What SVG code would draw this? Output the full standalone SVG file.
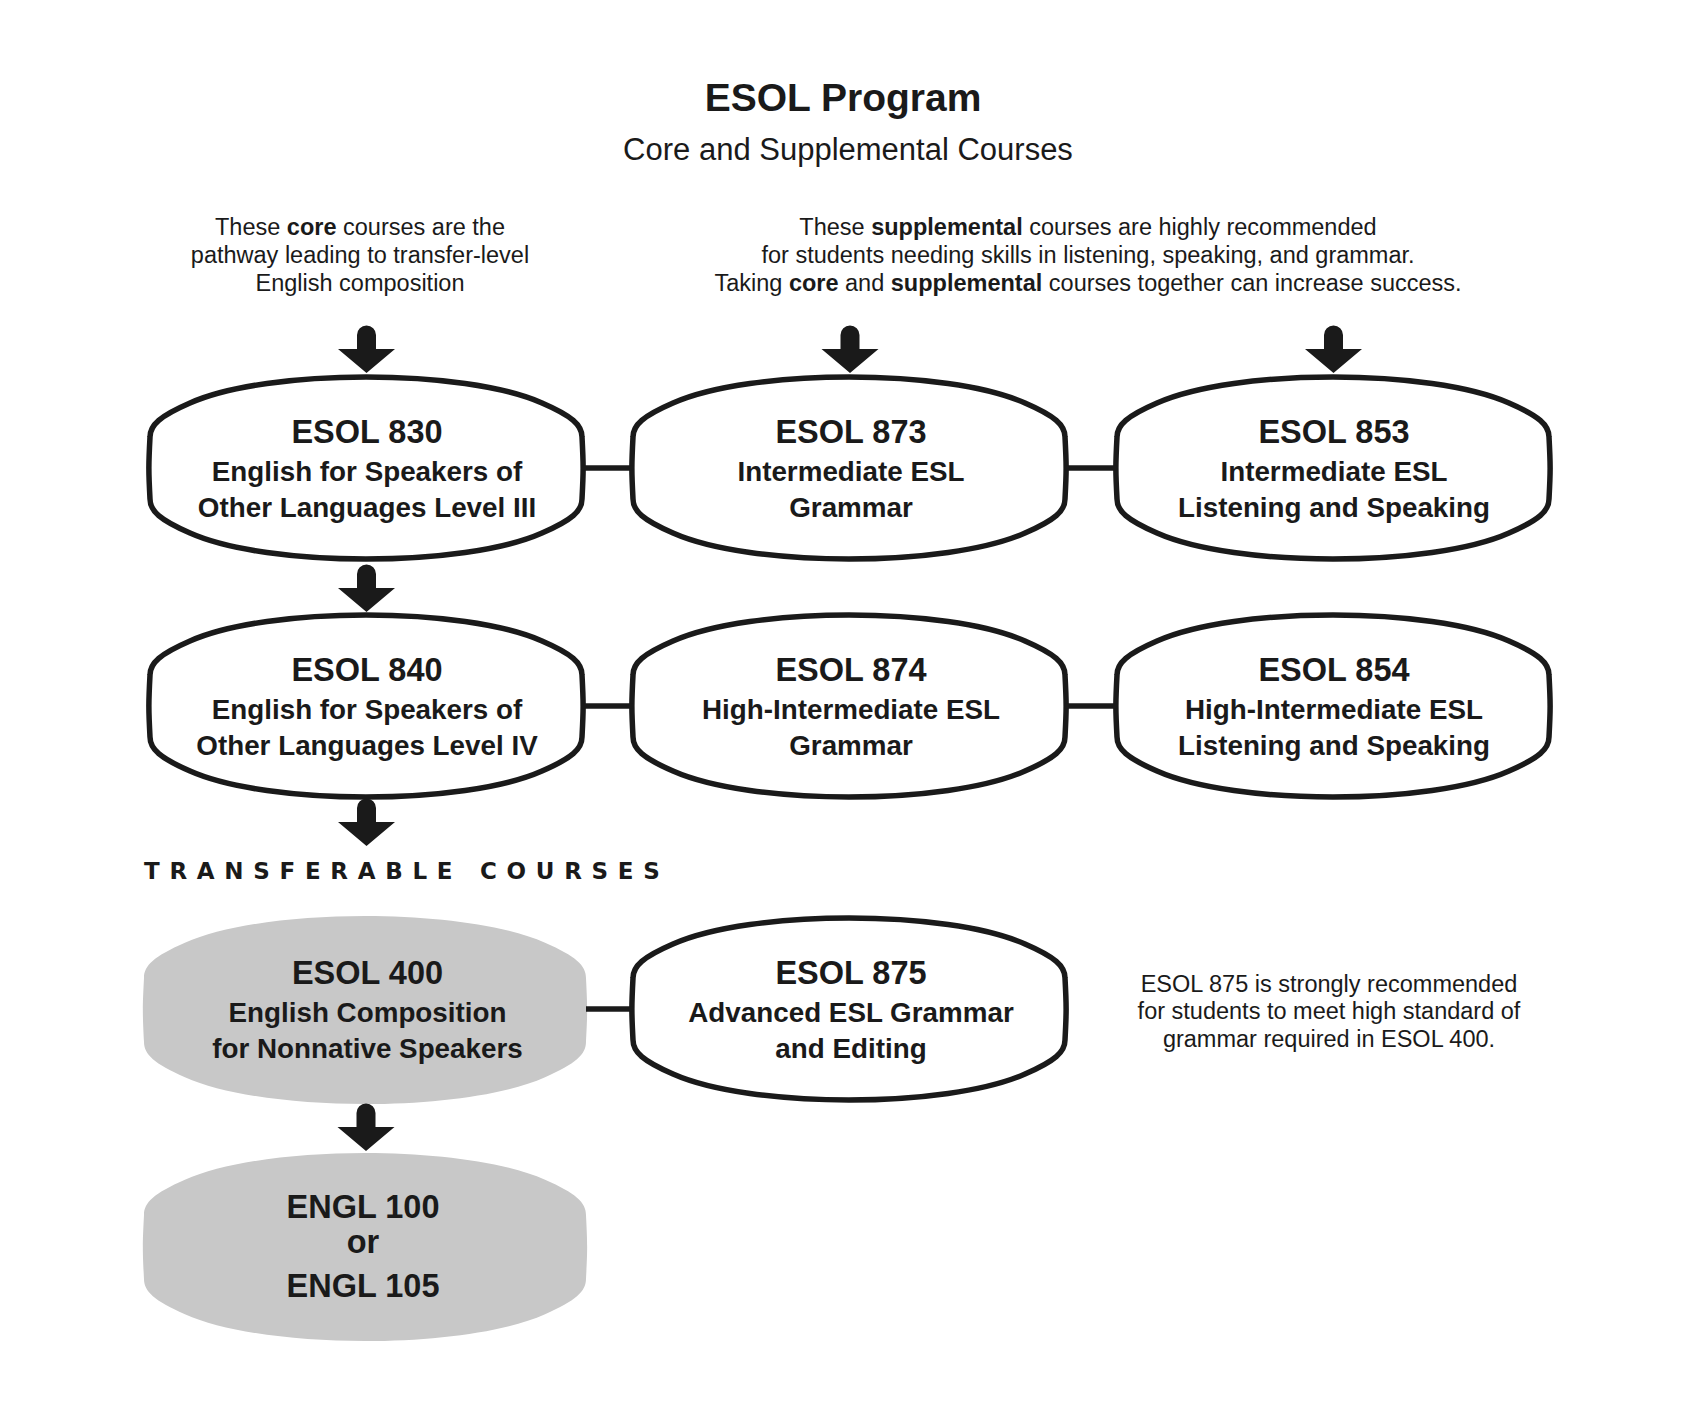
<svg xmlns="http://www.w3.org/2000/svg" width="1700" height="1416" viewBox="0 0 1700 1416">
<style>
  text { font-family: "Liberation Sans", Arial, sans-serif; fill: #1a1a1a; }
  .title { font-size: 39px; font-weight: bold; text-anchor: middle; }
  .sub { font-size: 31px; text-anchor: middle; }
  .note { font-size: 23.5px; text-anchor: middle; }
  .b { font-weight: bold; }
  .hd { font-size: 32.5px; font-weight: bold; text-anchor: middle; }
  .bd { font-size: 27.8px; font-weight: bold; text-anchor: middle; }
  .tr { font-family: "DejaVu Sans", "Liberation Sans", sans-serif; font-size: 23px; font-weight: bold; letter-spacing: 9.7px; }
  .box { fill: #ffffff; stroke: #1a1a1a; stroke-width: 5.5; }
  .gray { fill: #c8c8c8; stroke: none; }
  .link { stroke: #1a1a1a; stroke-width: 5.5; fill: none; }
  .arr { fill: #1a1a1a; }
</style>
<defs>
  <path id="pill" d="M 0,60 C 0,48 10,39 40,26 C 118,-8.7 314,-8.7 392,26 C 422,39 432,48 432,60 C 433.5,88 433.5,94 432,122 C 432,134 422,143 392,156 C 314,190.7 118,190.7 40,156 C 10,143 0,134 0,122 C -1.5,94 -1.5,88 0,60 Z"/>
  <path id="arrow" d="M 0,0 L -28.5,-24 L -9.5,-24 L -9.5,-38 A 9.5,9.5 0 0 1 9.5,-38 L 9.5,-24 L 28.5,-24 Z"/>
</defs>
<rect width="1700" height="1416" fill="#ffffff"/>

<g id="header">
  <text class="title" x="843" y="111">ESOL Program</text>
  <text class="sub" x="848" y="160">Core and Supplemental Courses</text>
</g>

<g id="core-note">
  <text class="note" x="360" y="235">These <tspan class="b">core</tspan> courses are the</text>
  <text class="note" x="360" y="263">pathway leading to transfer-level</text>
  <text class="note" x="360" y="291">English composition</text>
</g>

<g id="supp-note">
  <text class="note" x="1088" y="235">These <tspan class="b">supplemental</tspan> courses are highly recommended</text>
  <text class="note" x="1088" y="263">for students needing skills in listening, speaking, and grammar.</text>
  <text class="note" x="1088" y="291">Taking <tspan class="b">core</tspan> and <tspan class="b">supplemental</tspan> courses together can increase success.</text>
</g>

<g id="esol830">
  <use href="#pill" class="box" transform="translate(150,377)"/>
  <text class="hd" x="367" y="443">ESOL 830</text>
  <text class="bd" x="367" y="481">English for Speakers of</text>
  <text class="bd" x="367" y="517">Other Languages Level III</text>
</g>
<g id="esol873">
  <use href="#pill" class="box" transform="translate(633,377)"/>
  <text class="hd" x="851" y="443">ESOL 873</text>
  <text class="bd" x="851" y="481">Intermediate ESL</text>
  <text class="bd" x="851" y="517">Grammar</text>
</g>
<g id="esol853">
  <use href="#pill" class="box" transform="translate(1117,377)"/>
  <text class="hd" x="1334" y="443">ESOL 853</text>
  <text class="bd" x="1334" y="481">Intermediate ESL</text>
  <text class="bd" x="1334" y="517">Listening and Speaking</text>
</g>

<g id="esol840">
  <use href="#pill" class="box" transform="translate(150,615)"/>
  <text class="hd" x="367" y="681">ESOL 840</text>
  <text class="bd" x="367" y="719">English for Speakers of</text>
  <text class="bd" x="367" y="755">Other Languages Level IV</text>
</g>
<g id="esol874">
  <use href="#pill" class="box" transform="translate(633,615)"/>
  <text class="hd" x="851" y="681">ESOL 874</text>
  <text class="bd" x="851" y="719">High-Intermediate ESL</text>
  <text class="bd" x="851" y="755">Grammar</text>
</g>
<g id="esol854">
  <use href="#pill" class="box" transform="translate(1117,615)"/>
  <text class="hd" x="1334" y="681">ESOL 854</text>
  <text class="bd" x="1334" y="719">High-Intermediate ESL</text>
  <text class="bd" x="1334" y="755">Listening and Speaking</text>
</g>

<g id="transferable-label">
  <text class="tr" x="144" y="879">TRANSFERABLE COURSES</text>
</g>

<g id="esol400">
  <use href="#pill" class="gray" transform="translate(144,916) scale(1.0231,1.033)"/>
  <text class="hd" x="367.5" y="984">ESOL 400</text>
  <text class="bd" x="367.5" y="1022">English Composition</text>
  <text class="bd" x="367.5" y="1058">for Nonnative Speakers</text>
</g>
<g id="esol875">
  <use href="#pill" class="box" transform="translate(633,918)"/>
  <text class="hd" x="851" y="984">ESOL 875</text>
  <text class="bd" x="851" y="1022">Advanced ESL Grammar</text>
  <text class="bd" x="851" y="1058">and Editing</text>
</g>
<g id="note875">
  <text class="note" x="1329" y="992">ESOL 875 is strongly recommended</text>
  <text class="note" x="1329" y="1019">for students to meet high standard of</text>
  <text class="note" x="1329" y="1047">grammar required in ESOL 400.</text>
</g>

<g id="engl">
  <use href="#pill" class="gray" transform="translate(144,1153) scale(1.0231,1.033)"/>
  <text class="hd" x="363" y="1218">ENGL 100</text>
  <text class="hd" x="363" y="1253">or</text>
  <text class="hd" x="363" y="1297">ENGL 105</text>
</g>

<g id="connectors">
  <line class="link" x1="582" y1="468" x2="633" y2="468"/>
  <line class="link" x1="1065" y1="468" x2="1117" y2="468"/>
  <line class="link" x1="582" y1="706" x2="633" y2="706"/>
  <line class="link" x1="1065" y1="706" x2="1117" y2="706"/>
  <line class="link" x1="586" y1="1009" x2="633" y2="1009"/>
  <use href="#arrow" class="arr" transform="translate(366.5,373)"/>
  <use href="#arrow" class="arr" transform="translate(850,373)"/>
  <use href="#arrow" class="arr" transform="translate(1333.5,373)"/>
  <use href="#arrow" class="arr" transform="translate(366.5,612)"/>
  <use href="#arrow" class="arr" transform="translate(366.5,846)"/>
  <use href="#arrow" class="arr" transform="translate(366,1151)"/>
</g>
</svg>
